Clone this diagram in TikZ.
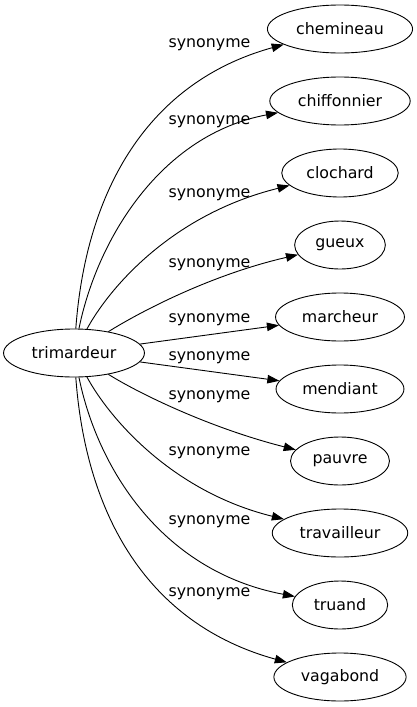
\documentclass[tikz,border=0pt]{standalone}
\usepackage{fontspec}
\setmainfont{DejaVu Sans}
\usetikzlibrary{positioning, arrows.meta, shapes.geometric}

\begin{document}
\begin{tikzpicture}[x=1pt, y=-1pt, node distance=72pt, line width=0.9pt, font=\fontsize{15.8}{19}\selectfont,
	main/.style = {draw, ellipse, inner xsep=7.5pt, minimum height=48pt},
	lbl/.style = {inner sep=0pt},
	syn/.style = {-{Triangle[length=12pt,width=8.5pt]}}]
	\useasboundingbox (0,0) rectangle (417,707);
	\node[main] (trimardeur) at (74,353) {trimardeur};
	\node[main] (chemineau) at (340,29) {chemineau};
	\node[main] (chiffonnier) [below of=chemineau] {chiffonnier};
	\node[main] (clochard) [below of=chiffonnier] {clochard};
	\node[main] (gueux) [below of=clochard] {gueux};
	\node[main] (marcheur) [below of=gueux] {marcheur};
	\node[main] (mendiant) [below of=marcheur] {mendiant};
	\node[main] (pauvre) [below of=mendiant] {pauvre};
	\node[main] (travailleur) [below of=pauvre] {travailleur};
	\node[main] (truand) [below of=travailleur] {truand};
	\node[main] (vagabond) [below of=truand] {vagabond};
	% labels
	\node[lbl] (l1) at (209.5,45) {synonyme};
	\node[lbl] (l2) at (209.5,122) {synonyme};
	\node[lbl] (l3) at (209.5,195) {synonyme};
	\node[lbl] (l4) at (209.5,265) {synonyme};
	\node[lbl] (l5) at (209.5,320) {synonyme};
	\node[lbl] (l6) at (209.5,358) {synonyme};
	\node[lbl] (l7) at (209.5,397) {synonyme};
	\node[lbl] (l8) at (209.5,453) {synonyme};
	\node[lbl] (l9) at (209.5,522) {synonyme};
	\node[lbl] (l10) at (209.5,594) {synonyme};
	% edges
	\draw[syn] (trimardeur) .. controls (86,190) and (148,82) .. (chemineau);
	\draw[syn] (trimardeur) .. controls (97,240) and (160,135) .. (chiffonnier);
	\draw[syn] (trimardeur) .. controls (108,290) and (170,215) .. (clochard);
	\draw[syn] (trimardeur) .. controls (140,312) and (210,275) .. (gueux);
	\draw[syn] (trimardeur) -- (marcheur);
	\draw[syn] (trimardeur) -- (mendiant);
	\draw[syn] (trimardeur) .. controls (140,394) and (210,428) .. (pauvre);
	\draw[syn] (trimardeur) .. controls (108,416) and (170,491) .. (travailleur);
	\draw[syn] (trimardeur) .. controls (97,466) and (160,571) .. (truand);
	\draw[syn] (trimardeur) .. controls (86,516) and (148,624) .. (vagabond);
\end{tikzpicture}
\end{document}
